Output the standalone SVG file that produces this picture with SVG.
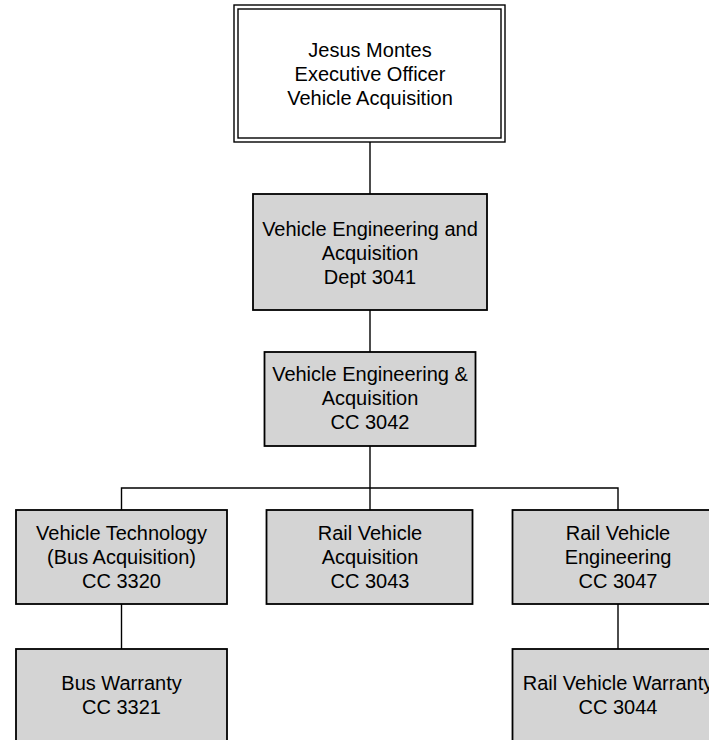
<svg xmlns="http://www.w3.org/2000/svg" width="709" height="740" viewBox="0 0 709 740">
<style>
.box{fill:#d4d4d4;stroke:#000;stroke-width:1.8}
.top{fill:#fff;stroke:#000;stroke-width:1.4}
.conn{fill:none;stroke:#000;stroke-width:1.4}
text{font-family:"Liberation Sans",Arial,sans-serif;font-size:20px;fill:#000;text-anchor:middle}
</style>
<rect width="709" height="740" fill="#fff"/>
<g id="connectors">
<line class="conn" x1="370" y1="142" x2="370" y2="194"/>
<line class="conn" x1="370" y1="310" x2="370" y2="352"/>
<line class="conn" x1="370" y1="446" x2="370" y2="510"/>
<polyline class="conn" points="121.5,510 121.5,488 618,488 618,510"/>
<line class="conn" x1="121.5" y1="604" x2="121.5" y2="649"/>
<line class="conn" x1="618" y1="604" x2="618" y2="649"/>
</g>
<g id="n-exec">
<rect class="top" x="234" y="5" width="271" height="137"/>
<rect class="top" x="238" y="9" width="263" height="129"/>
<text x="370" y="56.5">Jesus Montes</text>
<text x="370" y="80.5">Executive Officer</text>
<text x="370" y="104.5">Vehicle Acquisition</text>
</g>
<g id="n-3041">
<rect class="box" x="253" y="194" width="234" height="116"/>
<text x="370" y="235.5">Vehicle Engineering and</text>
<text x="370" y="259.5">Acquisition</text>
<text x="370" y="283.5">Dept 3041</text>
</g>
<g id="n-3042">
<rect class="box" x="264.5" y="352" width="211" height="94"/>
<text x="370" y="381">Vehicle Engineering &amp;</text>
<text x="370" y="405">Acquisition</text>
<text x="370" y="429">CC 3042</text>
</g>
<g id="n-3320">
<rect class="box" x="16" y="510" width="211" height="94"/>
<text x="121.5" y="539.5">Vehicle Technology</text>
<text x="121.5" y="563.5">(Bus Acquisition)</text>
<text x="121.5" y="587.5">CC 3320</text>
</g>
<g id="n-3043">
<rect class="box" x="266.5" y="510" width="206" height="94"/>
<text x="370" y="539.5">Rail Vehicle</text>
<text x="370" y="563.5">Acquisition</text>
<text x="370" y="587.5">CC 3043</text>
</g>
<g id="n-3047">
<rect class="box" x="512.5" y="510" width="211" height="94"/>
<text x="618" y="539.5">Rail Vehicle</text>
<text x="618" y="563.5">Engineering</text>
<text x="618" y="587.5">CC 3047</text>
</g>
<g id="n-3321">
<rect class="box" x="16" y="649" width="211" height="94"/>
<text x="121.5" y="690">Bus Warranty</text>
<text x="121.5" y="714">CC 3321</text>
</g>
<g id="n-3044">
<rect class="box" x="512.5" y="649" width="211" height="94"/>
<text x="618" y="690">Rail Vehicle Warranty</text>
<text x="618" y="714">CC 3044</text>
</g>
</svg>
